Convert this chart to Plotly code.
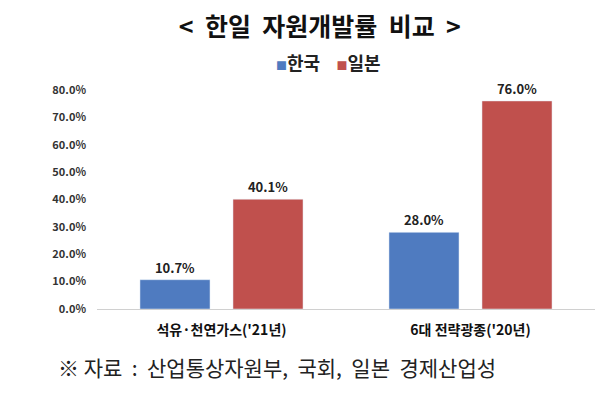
import plotly.graph_objects as go

categories = ["석유·천연가스('21년)", "6대 전략광종('20년)"]
korea = [10.7, 28.0]
japan = [40.1, 76.0]
series_names = ["한국", "일본"]
tick_vals = [0, 10, 20, 30, 40, 50, 60, 70, 80]
tick_text = [f"{v:.1f}%" for v in tick_vals]

font_kr = "Noto Sans CJK KR"
c_kr = "#4F7BC0"
c_jp = "#C0504D"
sp = "\u00a0"

fig = go.Figure()
fig.add_trace(go.Bar(
    name=series_names[0], x=categories, y=korea, marker_color=c_kr,
    text=[f"{v:.1f}%" for v in korea], textposition="outside",
    textfont=dict(family=font_kr, size=13, color="#222222", weight="bold"),
    cliponaxis=False,
))
fig.add_trace(go.Bar(
    name=series_names[1], x=categories, y=japan, marker_color=c_jp,
    text=[f"{v:.1f}%" for v in japan], textposition="outside",
    textfont=dict(family=font_kr, size=13, color="#222222", weight="bold"),
    cliponaxis=False,
))

title_text = (sp * 2).join(["<", "한일", "자원개발률", "비교", ">"])
fig.update_layout(
    width=600, height=393,
    margin=dict(l=97, r=5, t=90, b=84),
    paper_bgcolor="white", plot_bgcolor="white",
    barmode="group", bargap=0.253, bargroupgap=0.247,
    title=dict(text=title_text, x=0.533, xanchor="center", y=0.93, yanchor="middle",
               font=dict(family=font_kr, size=25, color="#111111", weight="bold")),
    showlegend=False,
    font=dict(family=font_kr),
)
legend_text = (f"<span style='color:{c_kr};font-size:11px'>■</span>{series_names[0]}{sp*4}"
               f"<span style='color:{c_jp};font-size:11px'>■</span>{series_names[1]}")
fig.add_annotation(text=legend_text, xref="paper", yref="paper", x=0.465, y=1.13,
                   xanchor="center", yanchor="middle", showarrow=False,
                   font=dict(family=font_kr, size=18, color="#222222", weight="bold"))
fig.update_yaxes(range=[0, 80], tickvals=tick_vals, ticktext=tick_text, showgrid=False,
                 zeroline=False, showline=False,
                 tickfont=dict(family=font_kr, size=11, color="#333333", weight="bold"),
                 ticklabelstandoff=10)
fig.update_xaxes(showline=True, linecolor="#D0D0D0", linewidth=1,
                 tickfont=dict(family=font_kr, size=14, color="#111111", weight="bold"),
                 ticks="", ticklabelstandoff=8)
g = sp * 2
foot = "※" + sp + "자료" + g + ":" + g + "산업통상자원부," + g + "국회," + g + "일본" + g + "경제산업성"
fig.add_annotation(text=foot, xref="paper", yref="paper",
                   x=-0.082, y=-0.265, xanchor="left", yanchor="middle", showarrow=False,
                   font=dict(family=font_kr, size=21, color="#222222"))

fig.write_html("out.html")
